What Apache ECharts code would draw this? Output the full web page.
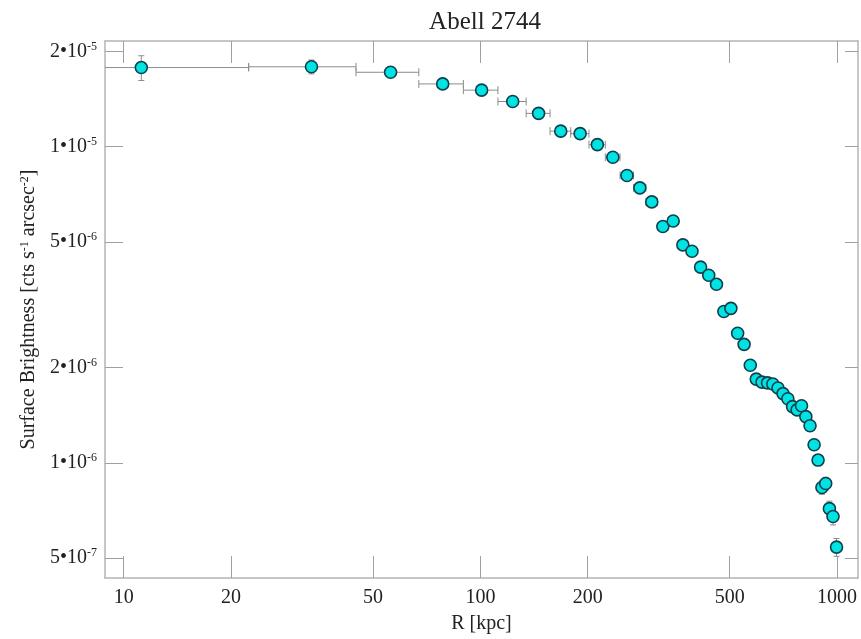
<!DOCTYPE html>
<html>
<head>
<meta charset="utf-8">
<title>Abell 2744</title>
<script src="https://cdn.jsdelivr.net/npm/echarts@6/dist/echarts.min.js"></script>
<style>
html, body { margin: 0; padding: 0; background: #fff; }
#chart { width: 861px; height: 639px; }
</style>
</head>
<body>
<div id="chart"></div>
<script>
// radial bins (kpc), bin centres
var radius = [11.2, 33.6, 56.0, 78.4, 100.8, 123.2, 145.6, 168.0, 190.4, 212.8,
    235.2, 257.6, 280.0, 302.4, 324.8, 347.2, 369.6, 392.0, 414.4, 436.8,
    459.2, 481.6, 504.0, 526.4, 548.8, 571.2, 593.6, 616.0, 638.4, 660.8,
    683.2, 705.6, 728.0, 750.4, 772.8, 795.2, 817.6, 840.0, 862.4, 884.8,
    907.2, 929.6, 952.0, 974.4, 996.8];
var binHalfWidth = 11.2;

// surface brightness [cts s^-1 arcsec^-2]
var brightness = [1.78e-5, 1.79e-5, 1.72e-5, 1.58e-5, 1.51e-5, 1.39e-5, 1.275e-5, 1.12e-5, 1.10e-5, 1.015e-5,
    9.26e-6, 8.11e-6, 7.41e-6, 6.69e-6, 5.59e-6, 5.82e-6, 4.89e-6, 4.67e-6, 4.16e-6, 3.92e-6,
    3.67e-6, 3.01e-6, 3.08e-6, 2.57e-6, 2.37e-6, 2.035e-6, 1.84e-6, 1.80e-6, 1.79e-6, 1.775e-6,
    1.725e-6, 1.655e-6, 1.595e-6, 1.505e-6, 1.47e-6, 1.515e-6, 1.40e-6, 1.31e-6, 1.14e-6, 1.02e-6,
    8.35e-7, 8.6e-7, 7.16e-7, 6.76e-7, 5.41e-7];
var brightnessErr = [1.6e-6, 9e-7, 6e-7, 4.5e-7, 4e-7, 3.5e-7, 3e-7, 2.7e-7, 2.5e-7, 2.2e-7,
    2e-7, 1.8e-7, 1.6e-7, 1.5e-7, 1.3e-7, 1.3e-7, 1.2e-7, 1.1e-7, 1e-7, 1e-7,
    9e-8, 8e-8, 8e-8, 7e-8, 7e-8, 6e-8, 6e-8, 6e-8, 6e-8, 6e-8,
    5.5e-8, 5.5e-8, 5e-8, 5e-8, 5e-8, 5e-8, 5e-8, 4.5e-8, 4.5e-8, 4e-8,
    4e-8, 4e-8, 4e-8, 4e-8, 3.5e-8];

// tick labels
var xTicks = [10, 20, 50, 100, 200, 500, 1000];
var yTicks = [2e-5, 1e-5, 5e-6, 2e-6, 1e-6, 5e-7];
var yTickMant = ['2', '1', '5', '2', '1', '5'];
var yTickExp = ['-5', '-5', '-6', '-6', '-6', '-7'];

var X_MIN = 8.86, X_MAX = 1145;
var Y_MIN = 4.32e-7, Y_MAX = 2.16e-5;

var FONT = '"Liberation Serif", "DejaVu Serif", serif';
var AXIS_COLOR = '#b4b4b4';
var TICK_COLOR = '#a0a0a0';

var points = [];
var errs = [];
for (var i = 0; i < radius.length; i++) {
    points.push([radius[i], brightness[i]]);
    errs.push([radius[i], brightness[i],
        radius[i] - binHalfWidth, radius[i] + binHalfWidth,
        brightness[i] - brightnessErr[i], brightness[i] + brightnessErr[i]]);
}

function findIndex(arr, v) {
    for (var k = 0; k < arr.length; k++) {
        if (Math.abs(arr[k] - v) / arr[k] < 1e-6) return k;
    }
    return -1;
}

function renderErr(params, api) {
    var x = api.value(0), y = api.value(1);
    var lo = api.value(2), hi = api.value(3);
    var c = api.coord([x, y]);
    var pl = api.coord([Math.max(lo, X_MIN), y]);
    var ph = api.coord([hi, y]);
    var pb = api.coord([x, api.value(4)]);
    var pt = api.coord([x, api.value(5)]);
    var cap = 4;
    var st = { stroke: '#8c8c8c', lineWidth: 1 };
    var kids = [
        { type: 'line', shape: { x1: pl[0], y1: c[1], x2: ph[0], y2: c[1] }, style: st },
        { type: 'line', shape: { x1: ph[0], y1: c[1] - cap, x2: ph[0], y2: c[1] + cap }, style: st },
        { type: 'line', shape: { x1: c[0], y1: pb[1], x2: c[0], y2: pt[1] }, style: st },
        { type: 'line', shape: { x1: c[0] - 3, y1: pb[1], x2: c[0] + 3, y2: pb[1] }, style: st },
        { type: 'line', shape: { x1: c[0] - 3, y1: pt[1], x2: c[0] + 3, y2: pt[1] }, style: st }
    ];
    if (lo > X_MIN) {
        kids.push({ type: 'line', shape: { x1: pl[0], y1: c[1] - cap, x2: pl[0], y2: c[1] + cap }, style: st });
    }
    return { type: 'group', children: kids };
}

var chart = echarts.init(document.getElementById('chart'));

var option = {
    backgroundColor: '#fff',
    animation: false,
    title: {
        text: 'Abell 2744',
        left: 485,
        top: 10,
        padding: 0,
        textAlign: 'center',
        textStyle: { fontFamily: FONT, fontSize: 25, fontWeight: 'normal', color: '#222' }
    },
    grid: { left: 105, right: 3, top: 41, bottom: 56, containLabel: false },
    xAxis: [{
        type: 'log',
        logBase: 10,
        min: X_MIN,
        max: X_MAX,
        position: 'bottom',
        name: 'R [kpc]',
        nameLocation: 'middle',
        nameGap: 36,
        nameTextStyle: { fontFamily: FONT, fontSize: 20, color: '#222' },
        axisLine: { onZero: false, lineStyle: { color: AXIS_COLOR, width: 1.5 } },
        axisTick: { inside: true, length: 22, customValues: xTicks, lineStyle: { color: TICK_COLOR, width: 1 } },
        minorTick: { show: false },
        axisLabel: {
            customValues: xTicks,
            margin: 10,
            fontFamily: FONT,
            fontSize: 20,
            color: '#222',
            formatter: function (v) { return String(Math.round(v)); }
        },
        splitLine: { show: false }
    }, {
        type: 'log',
        logBase: 10,
        min: X_MIN,
        max: X_MAX,
        position: 'top',
        axisLine: { onZero: false, lineStyle: { color: AXIS_COLOR, width: 1.5 } },
        axisTick: { inside: true, length: 22, customValues: xTicks, lineStyle: { color: TICK_COLOR, width: 1 } },
        axisLabel: { show: false },
        splitLine: { show: false }
    }],
    yAxis: [{
        type: 'log',
        logBase: 10,
        min: Y_MIN,
        max: Y_MAX,
        position: 'left',
        name: 'Surface Brightness [cts s{s|-1} arcsec{s|-2}]',
        nameLocation: 'middle',
        nameGap: 66,
        nameTextStyle: {
            fontFamily: FONT, fontSize: 20, color: '#222',
            rich: { s: { fontFamily: FONT, fontSize: 12, color: '#222', verticalAlign: 'top', lineHeight: 12 } }
        },
        axisLine: { onZero: false, lineStyle: { color: AXIS_COLOR, width: 1.5 } },
        axisTick: { inside: true, length: 18, customValues: yTicks, lineStyle: { color: TICK_COLOR, width: 1 } },
        minorTick: { show: false },
        axisLabel: {
            customValues: yTicks,
            margin: 8,
            formatter: function (v) {
                var k = findIndex(yTicks, v);
                if (k < 0) return '';
                return '{m|' + yTickMant[k] + '•10}{s|' + yTickExp[k] + '}';
            },
            rich: {
                m: { fontFamily: FONT, fontSize: 20, color: '#222', lineHeight: 22 },
                s: { fontFamily: FONT, fontSize: 12, color: '#222', verticalAlign: 'top', lineHeight: 12 }
            }
        },
        splitLine: { show: false }
    }, {
        type: 'log',
        logBase: 10,
        min: Y_MIN,
        max: Y_MAX,
        position: 'right',
        axisLine: { onZero: false, lineStyle: { color: AXIS_COLOR, width: 1.5 } },
        axisTick: { inside: true, length: 13, customValues: yTicks, lineStyle: { color: TICK_COLOR, width: 1 } },
        axisLabel: { show: false },
        splitLine: { show: false }
    }],
    series: [{
        type: 'custom',
        name: 'errors',
        xAxisIndex: 0,
        yAxisIndex: 0,
        clip: true,
        renderItem: renderErr,
        encode: { x: 0, y: 1 },
        data: errs,
        z: 1
    }, {
        type: 'scatter',
        name: 'Sx',
        xAxisIndex: 0,
        yAxisIndex: 0,
        data: points,
        symbol: 'circle',
        symbolSize: 12,
        itemStyle: { color: '#00e3e3', borderColor: '#0e3f4e', borderWidth: 1.6, opacity: 1 },
        z: 3
    }]
};

chart.setOption(option);
</script>
</body>
</html>
